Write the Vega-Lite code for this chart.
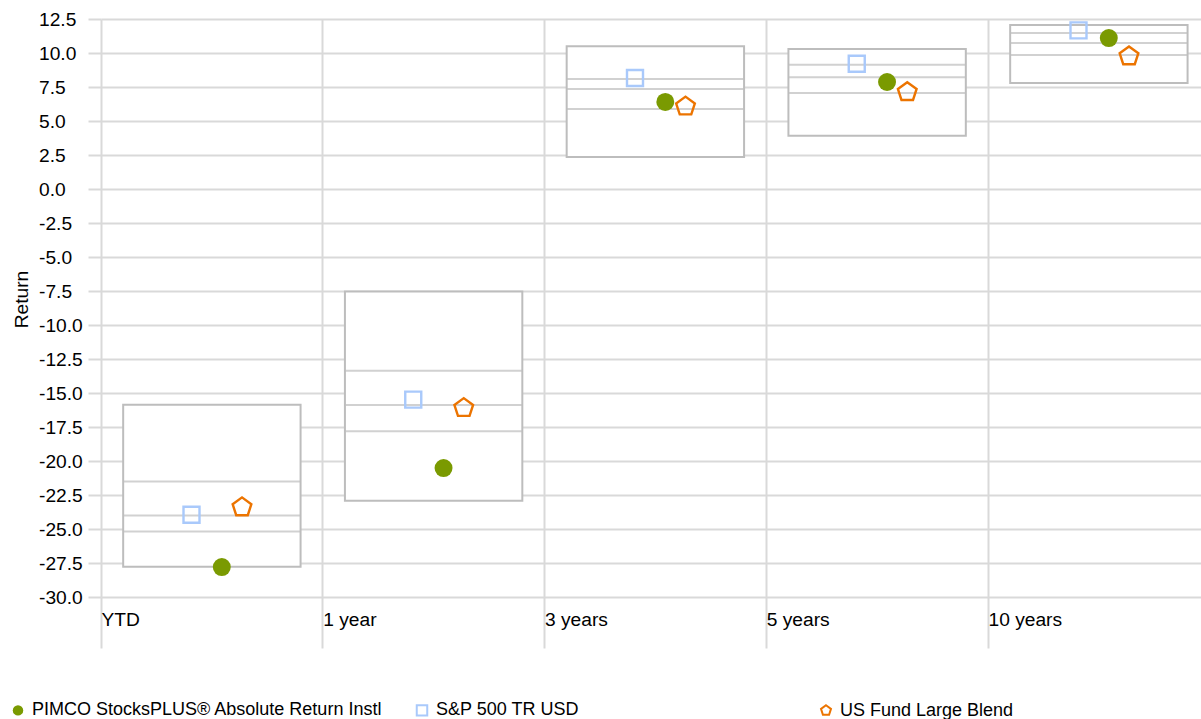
{
  "$schema": "https://vega.github.io/schema/vega-lite/v6.json",
  "width": 1100,
  "height": 578,
  "autosize": {"type": "none"},
  "padding": {"left": 101, "top": 19, "right": 0, "bottom": 122},
  "background": "white",
  "config": {
    "font": "Liberation Sans",
    "view": {"stroke": null},
    "axis": {"labelColor": "#000000", "titleColor": "#000000", "gridColor": "#d9d9d9", "gridWidth": 2, "tickColor": "#d9d9d9", "tickWidth": 2, "domain": false, "labelOverlap": false},
    "legend": {"orient": "none", "legendX": -92, "legendY": 682, "direction": "horizontal", "columns": 3, "gridAlign": "all", "columnPadding": 29, "labelFontSize": 18, "labelColor": "#000000", "labelOffset": 5, "labelLimit": 600, "symbolSize": 110, "symbolStrokeWidth": 2, "padding": 0, "title": null}
  },
  "datasets": {
    "boxes": [
      {"period": "YTD", "value": -15.86, "bottom": -27.77},
      {"period": "1 year", "value": -7.53, "bottom": -22.92},
      {"period": "3 years", "value": 10.49, "bottom": 2.35},
      {"period": "5 years", "value": 10.29, "bottom": 3.92},
      {"period": "10 years", "value": 12.06, "bottom": 7.79}
    ],
    "lines": [
      {"period": "YTD", "value": -21.5}, {"period": "YTD", "value": -24.0}, {"period": "YTD", "value": -25.18},
      {"period": "1 year", "value": -13.36}, {"period": "1 year", "value": -15.88}, {"period": "1 year", "value": -17.82},
      {"period": "3 years", "value": 8.09}, {"period": "3 years", "value": 7.35}, {"period": "3 years", "value": 5.88},
      {"period": "5 years", "value": 9.14}, {"period": "5 years", "value": 8.21}, {"period": "5 years", "value": 7.06},
      {"period": "10 years", "value": 11.47}, {"period": "10 years", "value": 10.74}, {"period": "10 years", "value": 9.85}
    ],
    "points": [
      {"period": "YTD", "series": "PIMCO StocksPLUS® Absolute Return Instl", "value": -27.8},
      {"period": "YTD", "series": "S&P 500 TR USD", "value": -23.95},
      {"period": "YTD", "series": "US Fund Large Blend", "value": -23.4},
      {"period": "1 year", "series": "PIMCO StocksPLUS® Absolute Return Instl", "value": -20.52},
      {"period": "1 year", "series": "S&P 500 TR USD", "value": -15.49},
      {"period": "1 year", "series": "US Fund Large Blend", "value": -16.1},
      {"period": "3 years", "series": "PIMCO StocksPLUS® Absolute Return Instl", "value": 6.4},
      {"period": "3 years", "series": "S&P 500 TR USD", "value": 8.16},
      {"period": "3 years", "series": "US Fund Large Blend", "value": 6.07},
      {"period": "5 years", "series": "PIMCO StocksPLUS® Absolute Return Instl", "value": 7.87},
      {"period": "5 years", "series": "S&P 500 TR USD", "value": 9.21},
      {"period": "5 years", "series": "US Fund Large Blend", "value": 7.13},
      {"period": "10 years", "series": "PIMCO StocksPLUS® Absolute Return Instl", "value": 11.1},
      {"period": "10 years", "series": "S&P 500 TR USD", "value": 11.66},
      {"period": "10 years", "series": "US Fund Large Blend", "value": 9.76}
    ]
  },
  "encoding": {
    "x": {
      "field": "period", "type": "nominal", "sort": ["YTD", "1 year", "3 years", "5 years", "10 years"],
      "scale": {"domain": ["YTD", "1 year", "3 years", "5 years", "10 years"], "range": [0, 1108.75], "paddingInner": 0, "paddingOuter": 0},
      "axis": {"title": null, "bandPosition": 0, "grid": true, "ticks": true, "tickSize": 51, "labelAlign": "left", "labelBaseline": "top", "labelPadding": -38, "labelOffset": -110.4, "labelFontSize": 19.2, "labelAngle": 0}
    },
    "y": {
      "field": "value", "type": "quantitative",
      "scale": {"domain": [-30, 12.5], "nice": false, "zero": false},
      "axis": {"title": "Return", "titleFontSize": 19.2, "titleFontWeight": "normal", "titlePadding": 7, "titleY": 280,
               "values": [-30, -27.5, -25, -22.5, -20, -17.5, -15, -12.5, -10, -7.5, -5, -2.5, 0, 2.5, 5, 7.5, 10, 12.5],
               "labelExpr": "replace(format(datum.value, '.1f'), '\u2212', '-')",
               "grid": true, "tickSize": 13, "labelAlign": "left", "labelPadding": 49.5, "labelFontSize": 19.2}
    }
  },
  "layer": [
    {
      "data": {"name": "boxes"},
      "mark": {"type": "bar", "width": 177.4, "fill": "white", "stroke": "#bdbdbd", "strokeWidth": 2},
      "encoding": {"y2": {"field": "bottom"}}
    },
    {
      "data": {"name": "lines"},
      "mark": {"type": "tick", "size": 177.4, "thickness": 2, "color": "#bdbdbd", "orient": "horizontal"}
    },
    {
      "data": {"name": "points"},
      "mark": {"type": "point", "strokeWidth": 2.4, "opacity": 1},
      "encoding": {
        "xOffset": {"field": "series", "type": "nominal",
          "scale": {"type": "point", "domain": ["S&P 500 TR USD", "a1", "a2", "PIMCO StocksPLUS® Absolute Return Instl", "a3", "US Fund Large Blend"], "range": [90.5, 141], "padding": 0}},
        "shape": {"field": "series", "type": "nominal",
          "scale": {"domain": ["PIMCO StocksPLUS® Absolute Return Instl", "S&P 500 TR USD", "US Fund Large Blend"],
                    "range": ["circle", "square", "M0,-1L0.951,-0.309L0.588,0.809L-0.588,0.809L-0.951,-0.309Z"]},
          "legend": {"title": null, "encode": {"symbols": {"update": {"size": {"signal": "datum.value === 'S&P 500 TR USD' ? 40 : 110"}}}}}},
        "fill": {"field": "series", "type": "nominal",
          "scale": {"domain": ["PIMCO StocksPLUS® Absolute Return Instl", "S&P 500 TR USD", "US Fund Large Blend"],
                    "range": ["#7a9a01", "transparent", "transparent"]},
          "legend": {"title": null, "encode": {"symbols": {"update": {"size": {"signal": "datum.value === 'S&P 500 TR USD' ? 40 : 110"}}}}}},
        "stroke": {"field": "series", "type": "nominal",
          "scale": {"domain": ["PIMCO StocksPLUS® Absolute Return Instl", "S&P 500 TR USD", "US Fund Large Blend"],
                    "range": ["transparent", "#a9c9fb", "#ec7400"]},
          "legend": {"title": null, "encode": {"symbols": {"update": {"size": {"signal": "datum.value === 'S&P 500 TR USD' ? 40 : 110"}}}}}},
        "size": {"field": "series", "type": "nominal",
          "scale": {"type": "point", "domain": ["S&P 500 TR USD", "PIMCO StocksPLUS® Absolute Return Instl", "US Fund Large Blend"], "range": [256, 387], "padding": 0},
          "legend": null}
      }
    }
  ]
}
